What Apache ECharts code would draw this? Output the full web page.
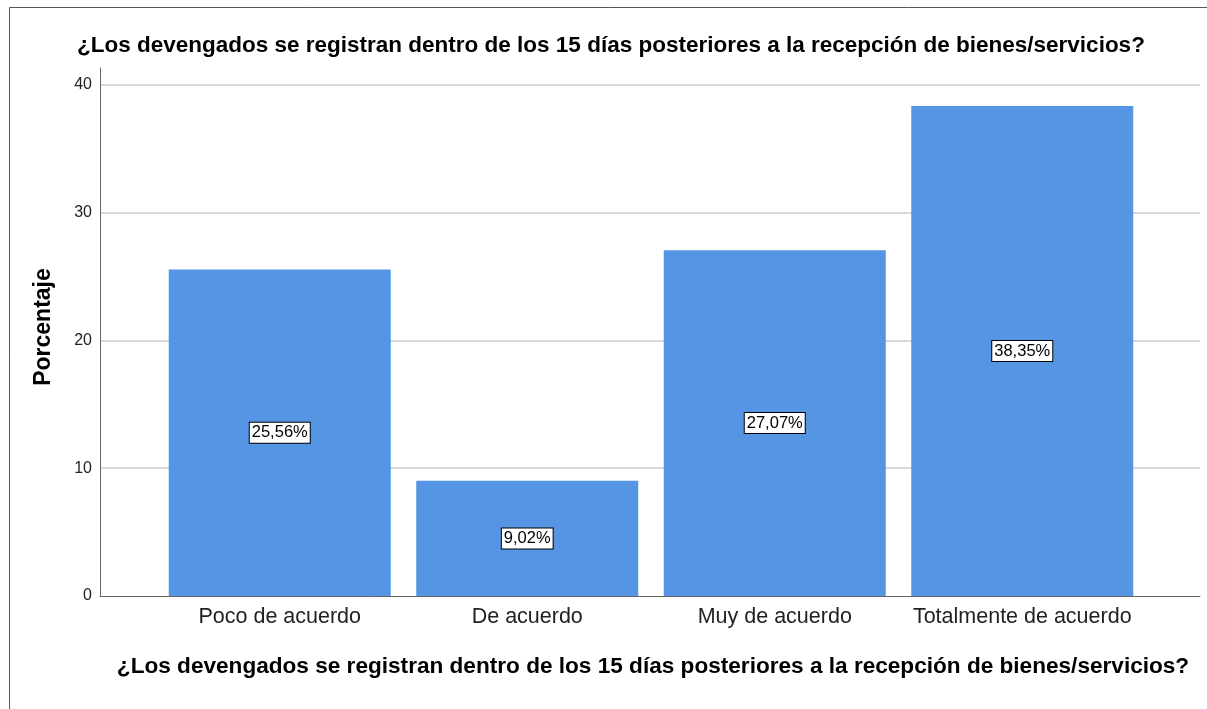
<!DOCTYPE html>
<html><head><meta charset="utf-8">
<script src="https://cdn.jsdelivr.net/npm/echarts@6/dist/echarts.min.js"></script>
<style>html,body{margin:0;padding:0;background:#fff}#c{width:1207px;height:709px}</style>
</head><body><div id="c"></div>
<script>
const categories = ['Poco de acuerdo', 'De acuerdo', 'Muy de acuerdo', 'Totalmente de acuerdo'];
const percentages = [25.56, 9.02, 27.07, 38.35];
const yTicks = [0, 10, 20, 30, 40];
const titleText = '¿Los devengados se registran dentro de los 15 días posteriores a la recepción de bienes/servicios?';
const yTitle = 'Porcentaje';

const yMax = 41.33;
const chart = echarts.init(document.getElementById('c'));
chart.setOption({
  animation: false,
  textStyle: { fontFamily: 'Liberation Sans, Arial, sans-serif' },
  title: [
    { text: titleText, left: 72, top: 29, textStyle: { fontSize: 22.5, fontWeight: 'bold', color: '#000' } },
    { text: titleText, left: 648, textAlign: 'center', top: 650, textStyle: { fontSize: 22.6, fontWeight: 'bold', color: '#000' } }
  ],
  graphic: [
    { type: 'rect', shape: { x: 9.5, y: 7.5, width: 1400, height: 900 }, style: { fill: 'none', stroke: '#555', lineWidth: 1 }, silent: true, z: -1 },
    { type: 'text', rotation: Math.PI / 2, style: { text: yTitle, fontSize: 23, fontWeight: 'bold', fill: '#000', textAlign: 'center', textVerticalAlign: 'middle', fontFamily: 'Liberation Sans, Arial, sans-serif' }, x: 44, y: 327 }
  ],
  grid: [
    { left: 100, right: 7, top: 68, bottom: 113 },
    { left: 156, right: 61, top: 68, bottom: 113 }
  ],
  xAxis: [
    { gridIndex: 0, type: 'category', data: [''], axisLine: { show: true, lineStyle: { color: '#666', width: 1 } }, axisTick: { show: false }, axisLabel: { show: false } },
    { gridIndex: 1, type: 'category', data: categories, axisLine: { show: false }, axisTick: { show: false },
      axisLabel: { fontSize: 21.5, color: '#222', margin: 10, interval: 0 } }
  ],
  yAxis: [
    { gridIndex: 0, type: 'value', min: 0, max: yMax, interval: 10,
      axisLine: { show: true, lineStyle: { color: '#666', width: 1 } }, axisTick: { show: false },
      axisLabel: { fontSize: 16, color: '#222', margin: 8, showMaxLabel: false,
        formatter: v => (yTicks.indexOf(v) >= 0 ? String(v) : '') },
      splitLine: { show: true, showMaxLine: false, showMinLine: false, lineStyle: { color: '#cccccc', width: 1.5 } } },
    { gridIndex: 1, type: 'value', min: 0, max: yMax, interval: 10, show: false, splitLine: { show: false } }
  ],
  series: [{
    type: 'bar', xAxisIndex: 1, yAxisIndex: 1, data: percentages, barCategoryGap: '10.3%',
    itemStyle: { color: '#5595e4' },
    label: { show: true, position: 'inside', formatter: p => p.value.toFixed(2).replace('.', ',') + '%',
      fontSize: 16.5, color: '#000', backgroundColor: '#fff', borderColor: '#000', borderWidth: 1, padding: [2, 2, 1, 2] }
  }]
});
</script></body></html>
